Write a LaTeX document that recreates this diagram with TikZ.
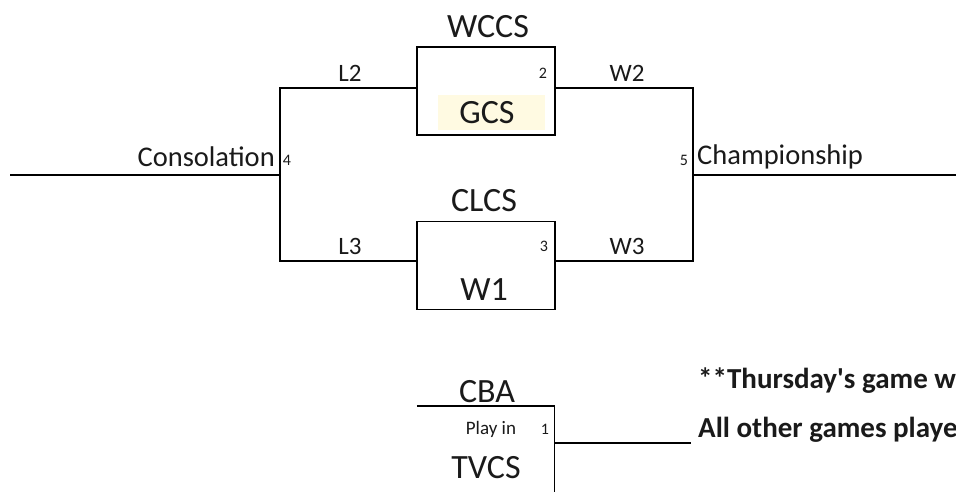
\documentclass[tikz,border=0pt]{standalone}
\usepackage{fontspec}
\setmainfont{Carlito}
\definecolor{hl}{HTML}{FFFAE2}
\definecolor{ink}{HTML}{1A1A1A}
\newcommand{\fs}[1]{\fontsize{#1}{#1}\selectfont}
\begin{document}
\begin{tikzpicture}[x=1pt,y=-1pt,
  gamebox/.style={draw,line width=1.4pt,minimum width=138pt,minimum height=88pt,inner sep=0pt},
  wire/.style={line width=1.4pt},
  team/.style={inner sep=0pt,text=ink,font=\fs{34}},
  lab/.style={inner sep=0pt,text=ink,font=\fs{25}},
  bigl/.style={inner sep=0pt,text=ink,font=\fs{28.5}},
  num/.style={inner sep=0pt,text=ink,font=\fs{16}},
  note/.style={inner sep=0pt,text=ink,font=\bfseries\fs{29},anchor=west}]
\useasboundingbox (0,0) rectangle (956,491);
\clip (0,0) rectangle (956,491);
\fill[white] (0,0) rectangle (956,491);
% highlight behind GCS
\fill[hl] (438,95) rectangle (545,130);
% game boxes
\node[gamebox] (g2) at (486,91) {};
\node[gamebox] (g3) at (486,265.5) {};
\node[minimum width=137pt,minimum height=74pt,inner sep=0pt] (g1) at (485.5,443) {};
% junction coordinates
\coordinate (c4) at (280,175);
\coordinate (c5) at (693,175);
\coordinate (consEnd) at (10,175);
\coordinate (champEnd) at (956,175);
\coordinate (pEnd) at (691,443);
% connectors
\draw[wire] ([yshift=3pt]g2.west) -| (c4);
\draw[wire] ([yshift=4.5pt]g3.west) -| (c4);
\draw[wire] (c4) -- (consEnd);
\draw[wire] ([yshift=3pt]g2.east) -| (c5);
\draw[wire] ([yshift=4.5pt]g3.east) -| (c5);
\draw[wire] (c5) -- (champEnd);
\draw[wire] (g1.north west) -- (g1.north east) -- ([yshift=-14pt]g1.south east);
\draw[wire] (g1.east) -- (pEnd);
% texts
\node[team] (t2a) at (488,27) {WCCS};
\node[team] (t2b) at (487,113) {GCS};
\node[team] (t3a) at (484,201) {CLCS};
\node[team] (t3b) at (484,290) {W1};
\node[team] (t1a) at (487,392) {CBA};
\node[team] (t1b) at (486,468) {TVCS};
\node[lab] (l2) at (350,73) {L2};
\node[lab] (l3) at (350,246) {L3};
\node[lab] (w2) at (627,73) {W2};
\node[lab] (w3) at (627,246) {W3};
\node[num] (n2) at (543,73) {2};
\node[num] (n3) at (544,246) {3};
\node[num] (n4) at (287,160) {4};
\node[num] (n5) at (684,160) {5};
\node[num] (n1) at (545,429) {1};
\node[inner sep=0pt,text=ink,font=\fs{19}] (pin) at (491,429) {Play in};
\node[bigl,anchor=east] (cons) at (275,157) {Consolation};
\node[bigl,anchor=west] (champ) at (697,157) {Championship};
\node[note] (nt1) at (698,381) {**Thursday\textquotesingle s game w};
\node[note] (nt2) at (698,430) {All other games playe};
\end{tikzpicture}
\end{document}
